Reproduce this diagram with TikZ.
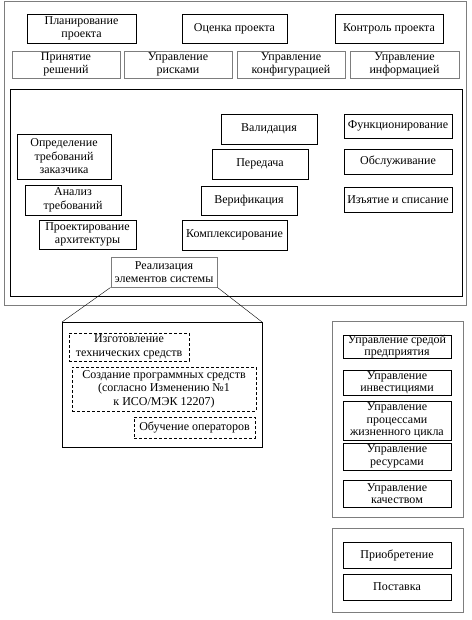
\documentclass[tikz,border=0pt]{standalone}
\usepackage{fontspec}
\setmainfont{Liberation Serif}
\definecolor{grayln}{RGB}{125,125,125}
\tikzset{
  bx/.style={draw, inner sep=0pt, align=center, font=\fontsize{12}{13.5}\selectfont},
  tbx/.style={bx, font=\fontsize{12}{12.5}\selectfont},
  gbx/.style={bx, draw=grayln, line width=0.9pt},
  dbx/.style={bx, dashed, dash pattern=on 3pt off 2pt},
}
\begin{document}
\begin{tikzpicture}[x=1pt,y=-1pt]
\useasboundingbox (0,0) rectangle (471,620);
% outer frames
\draw[grayln, line width=1pt] (4,2) rectangle (466,305);
\draw[line width=0.8pt] (10,89) rectangle (462,296);
% top rows
\node[bx, minimum width=109, minimum height=29] (plan) at (81.5,28.5) {Планирование\\проекта};
\node[bx, minimum width=105, minimum height=29] (ocen) at (234.5,28.5) {Оценка проекта};
\node[bx, minimum width=108, minimum height=29] (kontr) at (389,28.5) {Контроль проекта};
\node[gbx, minimum width=108, minimum height=27] (prin) at (66,64.5) {Принятие\\решений};
\node[gbx, minimum width=108, minimum height=27] (risk) at (178,64.5) {Управление\\рисками};
\node[gbx, minimum width=108, minimum height=27] (konf) at (291,64.5) {Управление\\конфигурацией};
\node[gbx, minimum width=109, minimum height=27] (inf) at (404.5,64.5) {Управление\\информацией};
% inner
\node[bx, minimum width=94, minimum height=45] (opr) at (64,156.5) {Определение\\требований\\заказчика};
\node[bx, minimum width=96, minimum height=30] (anal) at (73,200) {Анализ\\требований};
\node[bx, minimum width=97, minimum height=29] (arch) at (87.5,234.5) {Проектирование\\архитектуры};
\node[gbx, minimum width=106, minimum height=30] (real) at (164,272) {Реализация\\элементов системы};
\node[bx, minimum width=96, minimum height=30] (valid) at (269,129) {Валидация};
\node[bx, minimum width=96, minimum height=30] (pered) at (260,164) {Передача};
\node[bx, minimum width=96, minimum height=29] (verif) at (249,200.5) {Верификация};
\node[bx, minimum width=105, minimum height=30] (kompl) at (234.5,235) {Комплексирование};
\node[bx, minimum width=108, minimum height=24] (func) at (398,126) {Функционирование};
\node[bx, minimum width=108, minimum height=25] (obsl) at (398,161.5) {Обслуживание};
\node[bx, minimum width=108, minimum height=25] (izyat) at (398,199.5) {Изъятие и списание};
% lower expansion
\coordinate (ltl) at (62,322);
\coordinate (ltr) at (262,322);
\coordinate (lbl) at (62,447);
\coordinate (lbr) at (262,447);
\draw (real.south west) -- (ltl);
\draw (real.south east) -- (ltr);
\draw (ltl) -- (ltr) -- (lbr) -- (lbl) -- cycle;
\node[dbx, minimum width=120, minimum height=28] (izgot) at (129,347) {Изготовление\\технических средств};
\node[dbx, minimum width=184, minimum height=44] (sozd) at (164,389) {Создание программных средств\\(согласно Изменению №1\\к ИСО/МЭК 12207)};
\node[dbx, minimum width=121, minimum height=21] (obuch) at (194.5,427.5) {Обучение операторов};
% right groups
\draw[grayln, line width=1pt] (332,321) rectangle (463,517);
\node[tbx, minimum width=108, minimum height=23] (sreda) at (397,346.5) {Управление средой\\предприятия};
\node[tbx, minimum width=108, minimum height=25] (invest) at (397,382.5) {Управление\\инвестициями};
\node[tbx, minimum width=108, minimum height=39] (proc) at (397,420.5) {Управление\\процессами\\жизненного цикла};
\node[tbx, minimum width=108, minimum height=27] (resurs) at (397,456.5) {Управление\\ресурсами};
\node[tbx, minimum width=108, minimum height=27] (kach) at (397,493.5) {Управление\\качеством};
\draw[grayln, line width=1pt] (332,528) rectangle (463,612);
\node[bx, minimum width=108, minimum height=26] (priob) at (397,555) {Приобретение};
\node[bx, minimum width=108, minimum height=26] (post) at (397,587) {Поставка};
\end{tikzpicture}
\end{document}
